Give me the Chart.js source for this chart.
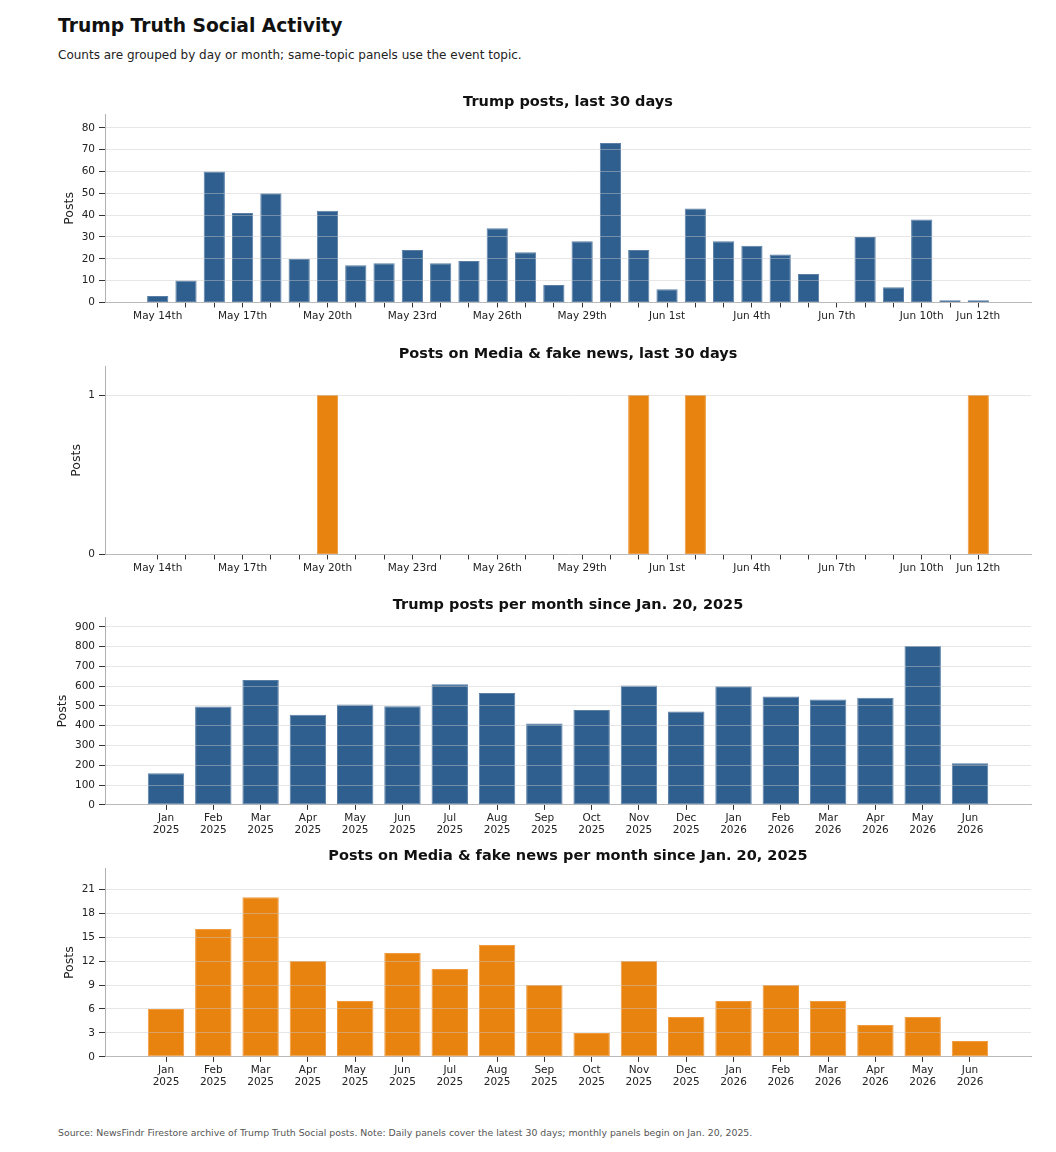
<!DOCTYPE html>
<html>
<head>
<meta charset="utf-8">
<script src="https://cdn.jsdelivr.net/npm/chart.js@4.4.1/dist/chart.umd.min.js"></script>
<style>
  body { margin: 0; background: #fff; width: 1056px; height: 1152px; position: relative; font-family: "DejaVu Sans", sans-serif; }
  #title { position: absolute; left: 58px; top: 15px; font-size: 18.7px; line-height: 22px; font-weight: bold; color: #111; }
  #subtitle { position: absolute; left: 58px; top: 47.5px; font-size: 12px; line-height: 15px; color: #222; }
  #source { position: absolute; left: 58px; top: 1127px; font-size: 9.35px; line-height: 11px; color: #555; }
  .panel { position: absolute; left: 0; width: 1056px; }
</style>
</head>
<body>
<div id="title">Trump Truth Social Activity</div>
<div id="subtitle">Counts are grouped by day or month; same-topic panels use the event topic.</div>
<div class="panel" style="top:85px;height:240px"><canvas id="chartDailyPosts"></canvas></div>
<div class="panel" style="top:337px;height:240px"><canvas id="chartDailyMedia"></canvas></div>
<div class="panel" style="top:588px;height:251px"><canvas id="chartMonthlyPosts"></canvas></div>
<div class="panel" style="top:839px;height:252px"><canvas id="chartMonthlyMedia"></canvas></div>
<div id="source">Source: NewsFindr Firestore archive of Trump Truth Social posts. Note: Daily panels cover the latest 30 days; monthly panels begin on Jan. 20, 2025.</div>
<script>
// last 30 days
var dayLabels = [
    'May 14th', 'May 15th', 'May 16th', 'May 17th', 'May 18th', 'May 19th', 'May 20th', 'May 21st',
    'May 22nd', 'May 23rd', 'May 24th', 'May 25th', 'May 26th', 'May 27th', 'May 28th', 'May 29th',
    'May 30th', 'May 31st', 'Jun 1st', 'Jun 2nd', 'Jun 3rd', 'Jun 4th', 'Jun 5th', 'Jun 6th',
    'Jun 7th', 'Jun 8th', 'Jun 9th', 'Jun 10th', 'Jun 11th', 'Jun 12th'
];
var dailyPosts = [
    3, 10, 60, 41, 50, 20, 42, 17, 18, 24, 18, 19, 34, 23, 8,
    28, 73, 24, 6, 43, 28, 26, 22, 13, 0, 30, 7, 38, 1, 1
];
var dailyMediaPosts = [
    0, 0, 0, 0, 0, 0, 1, 0, 0, 0, 0, 0, 0, 0, 0,
    0, 0, 1, 0, 1, 0, 0, 0, 0, 0, 0, 0, 0, 0, 1
];

// since Jan. 20, 2025
var monthLabels = [
    ['Jan', '2025'], ['Feb', '2025'], ['Mar', '2025'], ['Apr', '2025'], ['May', '2025'], ['Jun', '2025'],
    ['Jul', '2025'], ['Aug', '2025'], ['Sep', '2025'], ['Oct', '2025'], ['Nov', '2025'], ['Dec', '2025'],
    ['Jan', '2026'], ['Feb', '2026'], ['Mar', '2026'], ['Apr', '2026'], ['May', '2026'], ['Jun', '2026']
];
var monthlyPosts = [160, 497, 631, 456, 507, 498, 610, 566, 411, 480, 604, 472, 599, 548, 533, 541, 803, 210];
var monthlyMediaPosts = [6, 16, 20, 12, 7, 13, 11, 14, 9, 3, 12, 5, 7, 9, 7, 4, 5, 2];

var BLUE = '#2e5f8e', BLUE_EDGE = '#5b7fa5';
var ORANGE = '#e8830f', ORANGE_EDGE = '#ee9b42';
var FONT = 'DejaVu Sans';

function makePanel(canvasId, title, labels, values, opts) {
    var n = labels.length;
    var w = opts.barWidth;
    var span = (n - 1) + w;
    var ymax = Math.max.apply(null, values) * 1.18;

    return new Chart(document.getElementById(canvasId), {
        type: 'bar',
        data: {
            datasets: [{
                data: values.map(function(v, i) { return { x: i, y: v }; }),
                backgroundColor: opts.color,
                borderColor: opts.edge,
                borderWidth: 1,
                borderSkipped: false,
                barPercentage: opts.barPct,
                categoryPercentage: 1
            }]
        },
        options: {
            animation: false,
            responsive: true,
            maintainAspectRatio: false,
            layout: { padding: { left: 0, right: 25, top: 0, bottom: 0 } },
            plugins: {
                legend: { display: false },
                tooltip: { enabled: false },
                title: {
                    display: true,
                    text: title,
                    fullSize: false,
                    color: '#111',
                    font: { family: FONT, size: 14.5, weight: 'bold' },
                    padding: { top: 9, bottom: 3 }
                }
            },
            scales: {
                x: {
                    type: 'linear',
                    offset: false,
                    min: -w / 2 - 0.05 * span,
                    max: (n - 1) + w / 2 + 0.05 * span,
                    afterBuildTicks: function(scale) {
                        scale.ticks = labels.map(function(_, i) { return { value: i }; });
                    },
                    ticks: {
                        autoSkip: false,
                        maxRotation: 0,
                        padding: 3,
                        color: '#222',
                        font: { family: FONT, size: 10.5, lineHeight: 1.1 },
                        callback: function(value) {
                            return opts.showTick(value, n) ? labels[value] : '';
                        }
                    },
                    grid: {
                        offset: false,
                        drawOnChartArea: false,
                        drawTicks: true,
                        tickLength: 5,
                        tickColor: '#333'
                    },
                    border: { color: '#b0b0b0', width: 1 }
                },
                y: {
                    min: 0,
                    max: ymax,
                    afterFit: function(scale) { scale.width = 105; },
                    ticks: {
                        stepSize: opts.step,
                        includeBounds: false,
                        padding: 4,
                        color: '#222',
                        font: { family: FONT, size: 10.5 }
                    },
                    grid: {
                        z: 1,
                        color: 'rgba(200,200,200,0.45)',
                        tickColor: '#333',
                        tickLength: 6
                    },
                    border: { color: '#b0b0b0', width: 1, z: 2 },
                    title: {
                        display: true,
                        text: 'Posts',
                        color: '#222',
                        font: { family: FONT, size: 12.5 },
                        padding: { top: opts.titleX - 7.5, bottom: 0 }
                    }
                }
            }
        }
    });
}

function everyThirdDay(i, n) { return i % 3 === 0 || i === n - 1; }
function everyMonth() { return true; }

makePanel('chartDailyPosts', 'Trump posts, last 30 days', dayLabels, dailyPosts,
    { color: BLUE, edge: BLUE_EDGE, barWidth: 0.75, barPct: 0.75, step: 10, titleX: 70, showTick: everyThirdDay });
makePanel('chartDailyMedia', 'Posts on Media & fake news, last 30 days', dayLabels, dailyMediaPosts,
    { color: ORANGE, edge: ORANGE_EDGE, barWidth: 0.75, barPct: 0.75, step: 1, titleX: 77, showTick: everyThirdDay });
makePanel('chartMonthlyPosts', 'Trump posts per month since Jan. 20, 2025', monthLabels, monthlyPosts,
    { color: BLUE, edge: BLUE_EDGE, barWidth: 0.8, barPct: 0.77, step: 100, titleX: 63, showTick: everyMonth });
makePanel('chartMonthlyMedia', 'Posts on Media & fake news per month since Jan. 20, 2025', monthLabels, monthlyMediaPosts,
    { color: ORANGE, edge: ORANGE_EDGE, barWidth: 0.8, barPct: 0.77, step: 3, titleX: 70, showTick: everyMonth });
</script>
</body>
</html>
